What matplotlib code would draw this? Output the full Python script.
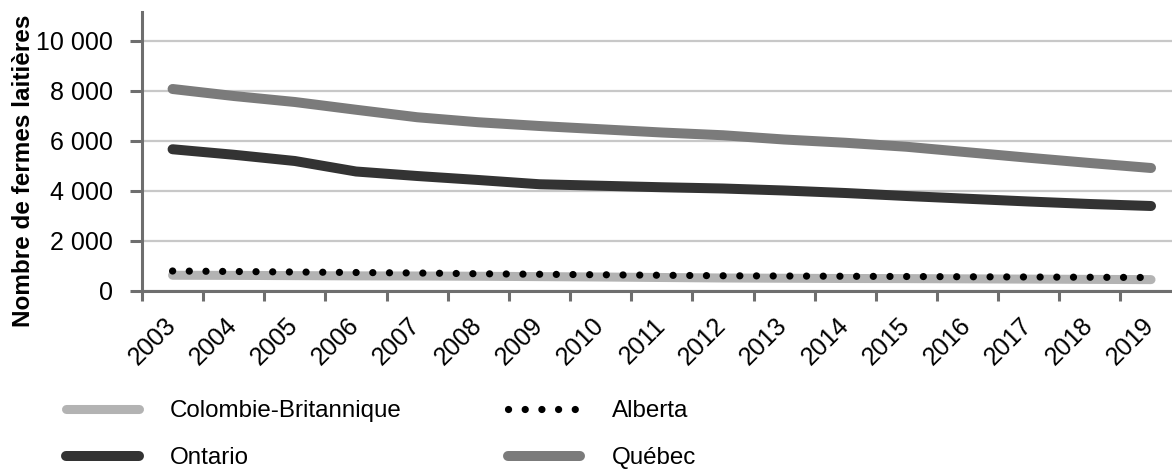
import matplotlib
matplotlib.use("Agg")
import matplotlib.pyplot as plt
from matplotlib.ticker import FuncFormatter, MultipleLocator, FixedLocator
from matplotlib.transforms import ScaledTranslation

plt.rcParams["font.family"] = ["Liberation Sans", "DejaVu Sans"]

years = [str(y) for y in range(2003, 2020)]
colombie_britannique = [630, 625, 615, 605, 600, 590, 575, 560, 540, 520, 510, 500, 495, 485, 475, 465, 455]
alberta = [800, 780, 760, 740, 720, 690, 670, 650, 630, 610, 600, 590, 580, 570, 560, 550, 540]
ontario = [5670, 5450, 5200, 4780, 4600, 4440, 4270, 4210, 4150, 4100, 4020, 3920, 3800, 3690, 3580, 3480, 3400]
quebec = [8080, 7800, 7560, 7250, 6950, 6750, 6600, 6470, 6340, 6230, 6060, 5930, 5770, 5550, 5330, 5120, 4920]

W, H = 1172, 470
fig = plt.figure(figsize=(W / 100, H / 100), dpi=100)
ax = fig.add_axes([142 / W, 1 - 291 / H, (1181.6 - 142) / W, (291 - 12) / H])

x = list(range(len(years)))
axis_grey = "#6e6e6e"

l_bc, = ax.plot(x, colombie_britannique, color="#b3b3b3", lw=6.5,
                solid_capstyle="round", solid_joinstyle="round", zorder=3)
l_ab, = ax.plot(x, alberta, color="black", lw=5.2, linestyle=(0, (0.01, 2.3)),
                dash_capstyle="round", zorder=4)
l_on, = ax.plot(x, ontario, color="#333333", lw=7.2,
                solid_capstyle="round", solid_joinstyle="round", zorder=3)
l_qc, = ax.plot(x, quebec, color="#7b7b7b", lw=7.2,
                solid_capstyle="round", solid_joinstyle="round", zorder=3)

ax.set_xlim(-0.5, len(years) - 0.5)
ax.set_ylim(0, 11160)

# horizontal grid
ax.yaxis.set_major_locator(MultipleLocator(2000))
ax.yaxis.grid(True, color="#c8c8c8", lw=1.6)
ax.set_axisbelow(True)

for side in ("top", "right"):
    ax.spines[side].set_visible(False)
for side in ("left", "bottom"):
    ax.spines[side].set_color(axis_grey)
    ax.spines[side].set_linewidth(2.2)

ax.yaxis.set_major_formatter(FuncFormatter(lambda v, p: f"{int(v):,}".replace(",", " ")))
ax.tick_params(axis="y", length=9, width=2.2, color=axis_grey, pad=12,
               labelsize=18, labelcolor="black")

# category labels centred, tick marks between categories
ax.set_xticks(x)
ax.set_xticklabels(years)
ax.xaxis.set_minor_locator(FixedLocator([i - 0.5 for i in range(len(years) + 1)]))
ax.tick_params(axis="x", which="major", length=0, pad=16, labelsize=18)
ax.tick_params(axis="x", which="minor", length=7, width=2.2, color=axis_grey)
offset = ScaledTranslation(8 / 100, 0, fig.dpi_scale_trans)
for lab in ax.get_xticklabels():
    lab.set_rotation(45)
    lab.set_ha("right")
    lab.set_va("top")
    lab.set_transform(lab.get_transform() + offset)

fig.text(24 / W, 1 - 171 / H, "Nombre de fermes laitières", rotation=90,
         fontsize=17.5, fontweight="bold", ha="center", va="center")

handles = [l_bc, l_on, l_ab, l_qc]
labels = ["Colombie-Britannique", "Ontario", "Alberta", "Québec"]
fig.legend(handles, labels, loc="upper left", ncol=2, frameon=False,
           bbox_to_anchor=(66 / W, 1 - 400 / H), bbox_transform=fig.transFigure,
           fontsize=17.4, handlelength=3.0, handletextpad=1.3,
           columnspacing=4.4, labelspacing=1.05, borderpad=0, borderaxespad=0)

fig.savefig("out.png", dpi=100)
